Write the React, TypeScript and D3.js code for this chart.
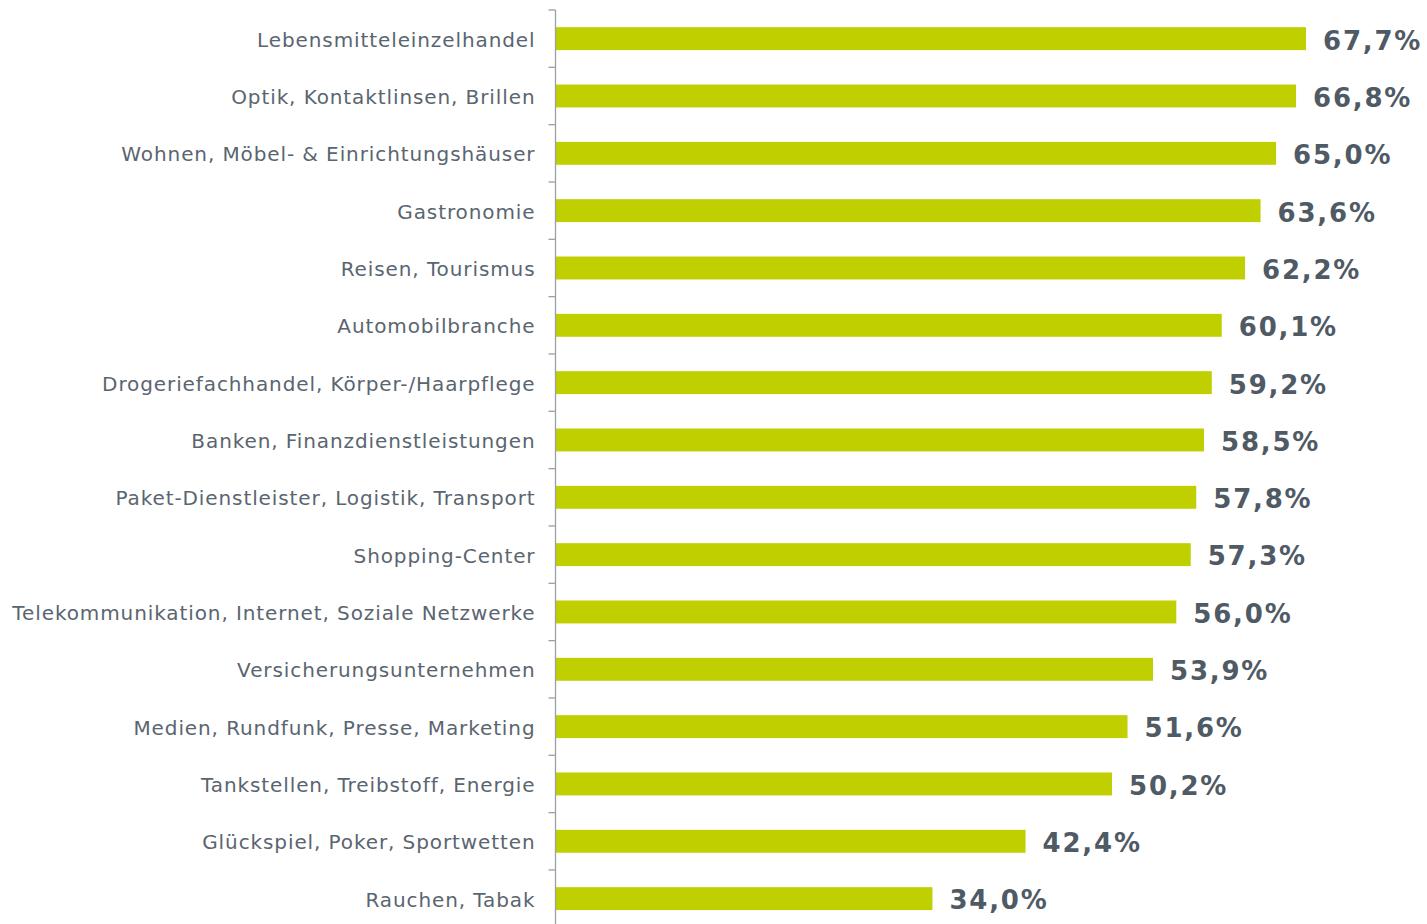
import React, { useEffect, useRef } from "react";
import * as d3 from "d3";

const categories = [
  "Lebensmitteleinzelhandel",
  "Optik, Kontaktlinsen, Brillen",
  "Wohnen, Möbel- & Einrichtungshäuser",
  "Gastronomie",
  "Reisen, Tourismus",
  "Automobilbranche",
  "Drogeriefachhandel, Körper-/Haarpflege",
  "Banken, Finanzdienstleistungen",
  "Paket-Dienstleister, Logistik, Transport",
  "Shopping-Center",
  "Telekommunikation, Internet, Soziale Netzwerke",
  "Versicherungsunternehmen",
  "Medien, Rundfunk, Presse, Marketing",
  "Tankstellen, Treibstoff, Energie",
  "Glückspiel, Poker, Sportwetten",
  "Rauchen, Tabak",
];

const values = [67.7, 66.8, 65.0, 63.6, 62.2, 60.1, 59.2, 58.5, 57.8, 57.3, 56.0, 53.9, 51.6, 50.2, 42.4, 34.0];

const width = 1427;
const height = 924;

const App = () => {
  const ref = useRef<SVGSVGElement>(null);

  useEffect(() => {
    const svg = d3.select(ref.current);
    svg.selectAll("*").remove();

    const left = 555.5;
    const top = 10;
    const bandH = 57.33;

    const x = d3.scaleLinear().domain([0, 67.7]).range([left, 1306]);
    const y = d3
      .scaleBand<string>()
      .domain(categories)
      .range([top, top + bandH * categories.length])
      .paddingInner(0.6)
      .paddingOuter(0.3);

    const rows = categories.map((c, i) => ({ category: c, value: values[i] }));

    svg
      .append("g")
      .selectAll("rect")
      .data(rows)
      .enter()
      .append("rect")
      .attr("x", left)
      .attr("y", (d) => y(d.category)!)
      .attr("width", (d) => x(d.value) - left)
      .attr("height", y.bandwidth())
      .attr("fill", "#bfcf00");

    // axis line and ticks at band boundaries
    const axis = svg.append("g").attr("stroke", "#9aa0a6").attr("stroke-width", 1.3);
    axis
      .append("line")
      .attr("x1", left)
      .attr("x2", left)
      .attr("y1", top)
      .attr("y2", top + bandH * categories.length);
    axis
      .selectAll("line.tick")
      .data(d3.range(categories.length + 1))
      .enter()
      .append("line")
      .attr("class", "tick")
      .attr("x1", left - 7)
      .attr("x2", left)
      .attr("y1", (i) => top + i * bandH)
      .attr("y2", (i) => top + i * bandH);

    svg
      .append("g")
      .selectAll("text")
      .data(rows)
      .enter()
      .append("text")
      .attr("x", left - 20)
      .attr("y", (d) => y(d.category)! + y.bandwidth() / 2 + 1)
      .attr("dy", "0.35em")
      .attr("text-anchor", "end")
      .attr("font-family", "DejaVu Sans, Verdana, sans-serif")
      .attr("font-size", 20)
      .attr("letter-spacing", 0.9)
      .attr("fill", "#5a6570")
      .text((d) => d.category);

    svg
      .append("g")
      .selectAll("text")
      .data(rows)
      .enter()
      .append("text")
      .attr("x", (d) => x(d.value) + 17)
      .attr("y", (d) => y(d.category)! + y.bandwidth() / 2 + 1.5)
      .attr("dy", "0.36em")
      .attr("font-family", "DejaVu Sans, Verdana, sans-serif")
      .attr("font-weight", "bold")
      .attr("font-size", 26)
      .attr("letter-spacing", 1.8)
      .attr("fill", "#4f5a65")
      .text((d) => d.value.toFixed(1).replace(".", ",") + "%");
  }, []);

  return (
    <svg
      ref={ref}
      width={width}
      height={height}
      style={{ position: "absolute", left: 0, top: 0, background: "#fff" }}
    ></svg>
  );
};

export default App;
